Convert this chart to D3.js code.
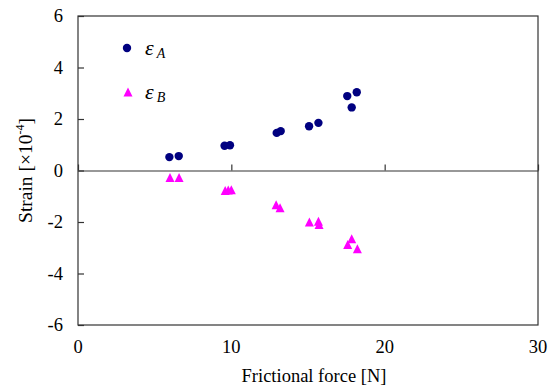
<!DOCTYPE html>
<html>
<head>
<meta charset="utf-8">
<script src="https://cdn.jsdelivr.net/npm/d3@7"></script>
<style>
  body { margin: 0; background: #fff; }
  text { font-family: "Liberation Serif", "Times New Roman", serif; fill: #000; }
</style>
</head>
<body>
<svg id="chart" width="557" height="387"></svg>
<script>
// strain A (circles) and strain B (triangles) vs frictional force
const forceA = [5.96, 6.57, 9.56, 9.91, 12.96, 13.22, 15.07, 15.68, 17.56, 18.18, 17.85];
const strainA = [0.52, 0.56, 0.96, 0.98, 1.46, 1.53, 1.72, 1.85, 2.89, 3.04, 2.45];
const forceB = [6.0, 6.59, 9.6, 9.8, 10.0, 12.92, 13.18, 15.09, 15.68, 15.72, 17.85, 17.59, 18.22];
const strainB = [-0.27, -0.27, -0.78, -0.76, -0.75, -1.33, -1.45, -2.0, -1.97, -2.1, -2.65, -2.87, -3.04];
const xTicks = [0, 10, 20, 30];
const yTicks = [-6, -4, -2, 0, 2, 4, 6];

const margin = { top: 16, right: 19, bottom: 62, left: 78 };
const width = 557 - margin.left - margin.right;
const height = 387 - margin.top - margin.bottom;

const svg = d3.select('#chart');
const g = svg.append('g').attr('transform', `translate(${margin.left},${margin.top})`);

const x = d3.scaleLinear().domain([0, 30]).range([0, width]);
const y = d3.scaleLinear().domain([-6, 6]).range([height, 0]);

const axisColor = '#333';

// frame
g.append('rect')
  .attr('x', 0).attr('y', 0)
  .attr('width', width).attr('height', height)
  .attr('fill', 'none')
  .attr('stroke', axisColor)
  .attr('stroke-width', 1.2);

// y axis: ticks pointing inside
const yAxis = g.append('g')
  .call(d3.axisRight(y).tickValues(yTicks).tickSize(6).tickFormat(''));
yAxis.select('.domain').remove();
yAxis.selectAll('line').attr('stroke', axisColor).attr('stroke-width', 1.2);

// zero line with upward ticks at the x tick values
const xAxis = g.append('g')
  .attr('transform', `translate(0,${y(0)})`)
  .call(d3.axisTop(x).tickValues(xTicks).tickSize(6).tickSizeOuter(0).tickFormat(''));
xAxis.select('.domain').attr('stroke', axisColor).attr('stroke-width', 1.2);
xAxis.selectAll('line').attr('stroke', axisColor).attr('stroke-width', 1.2);

// tick labels
g.selectAll('.ylab')
  .data(yTicks)
  .join('text')
  .attr('class', 'ylab')
  .attr('x', -15)
  .attr('y', d => y(d))
  .attr('dy', '0.35em')
  .attr('text-anchor', 'end')
  .attr('font-size', 18.5)
  .text(d => d);

g.selectAll('.xlab')
  .data(xTicks)
  .join('text')
  .attr('class', 'xlab')
  .attr('x', d => x(d))
  .attr('y', height + 28)
  .attr('text-anchor', 'middle')
  .attr('font-size', 18.5)
  .text(d => d);

// axis titles
g.append('text')
  .attr('x', width / 2 + 6)
  .attr('y', height + 57)
  .attr('text-anchor', 'middle')
  .attr('font-size', 18.5)
  .text('Frictional force [N]');

const yTitle = g.append('text')
  .attr('transform', `translate(${-46},${height / 2}) rotate(-90)`)
  .attr('text-anchor', 'middle')
  .attr('font-size', 19.5);
yTitle.append('tspan').text('Strain [\u00d710');
yTitle.append('tspan').attr('font-size', 12).attr('dy', -8).text('-4');
yTitle.append('tspan').attr('dy', 8).text(']');

// markers
const triPath = (cx, cy, s) =>
  `M${cx},${cy - s / 2}L${cx + s / 2},${cy + s / 2}L${cx - s / 2},${cy + s / 2}Z`;

g.append('g')
  .selectAll('circle')
  .data(forceA.map((f, i) => [f, strainA[i]]))
  .join('circle')
  .attr('cx', d => x(d[0]))
  .attr('cy', d => y(d[1]))
  .attr('r', 4.2)
  .attr('fill', '#000080');

g.append('g')
  .selectAll('path')
  .data(forceB.map((f, i) => [f, strainB[i]]))
  .join('path')
  .attr('d', d => triPath(x(d[0]), y(d[1]), 9))
  .attr('fill', '#ff00ff');

// legend
const legend = svg.append('g');
legend.append('circle').attr('cx', 127).attr('cy', 48).attr('r', 4.2).attr('fill', '#000080');
legend.append('path').attr('d', triPath(128, 92, 9)).attr('fill', '#ff00ff');

const legA = legend.append('text').attr('x', 145).attr('y', 55).attr('font-style', 'italic').attr('font-size', 22);
legA.append('tspan').text('\u03b5');
legA.append('tspan').attr('font-size', 14).attr('dx', 3).attr('dy', 3).text('A');

const legB = legend.append('text').attr('x', 145).attr('y', 99).attr('font-style', 'italic').attr('font-size', 22);
legB.append('tspan').text('\u03b5');
legB.append('tspan').attr('font-size', 14).attr('dx', 3).attr('dy', 3).text('B');
</script>
</body>
</html>
